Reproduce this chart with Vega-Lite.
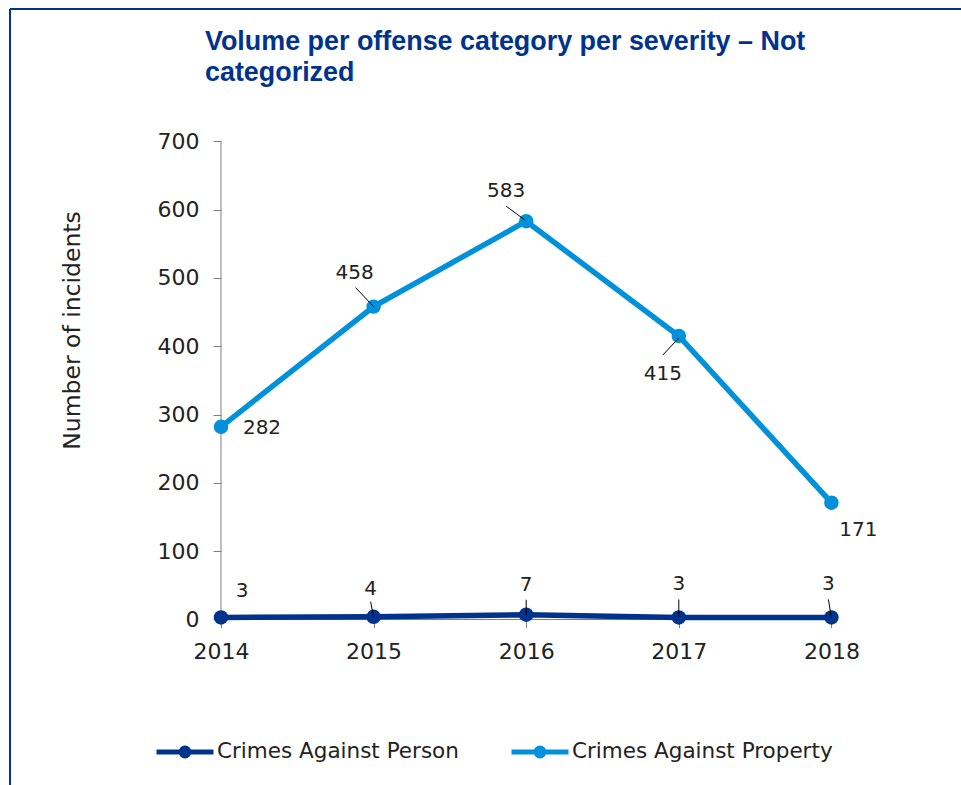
{
  "$schema": "https://vega.github.io/schema/vega-lite/v6.json",
  "width": 951,
  "height": 776,
  "autosize": {"type": "none"},
  "padding": {"left": 10, "top": 9, "right": 0, "bottom": 0},
  "background": "white",
  "config": {
    "view": {"stroke": "#00338D", "strokeWidth": 2, "strokeDash": [951, 1727, 776, 0]}
  },
  "title": {
    "text": ["Volume per offense category per severity – Not", "categorized"],
    "anchor": "start",
    "frame": "group",
    "font": "Liberation Sans",
    "fontSize": 26.9,
    "fontWeight": "bold",
    "color": "#00338D",
    "lineHeight": 31,
    "baseline": "top",
    "offset": 0,
    "dx": 195,
    "dy": 78
  },
  "data": {
    "values": [
      {"series": "Crimes Against Person", "year": 2014, "value": 3},
      {"series": "Crimes Against Person", "year": 2015, "value": 4},
      {"series": "Crimes Against Person", "year": 2016, "value": 7},
      {"series": "Crimes Against Person", "year": 2017, "value": 3},
      {"series": "Crimes Against Person", "year": 2018, "value": 3},
      {"series": "Crimes Against Property", "year": 2014, "value": 282},
      {"series": "Crimes Against Property", "year": 2015, "value": 458},
      {"series": "Crimes Against Property", "year": 2016, "value": 583},
      {"series": "Crimes Against Property", "year": 2017, "value": 415},
      {"series": "Crimes Against Property", "year": 2018, "value": 171}
    ]
  },
  "encoding": {
    "x": {
      "field": "year", "type": "quantitative",
      "scale": {"domain": [2012.6173, 2018.8493], "nice": false, "zero": false},
      "axis": {
        "orient": "bottom", "offset": -165.5, "values": [2014, 2015, 2016, 2017, 2018], "format": "d",
        "domain": false, "grid": false, "title": null,
        "tickSize": 8, "tickColor": "#7f7f7f", "tickWidth": 1,
        "labelFont": "DejaVu Sans", "labelFontSize": 22, "labelColor": "#222222", "labelPadding": 14,
        "labelFlush": false, "labelOverlap": false
      }
    },
    "y": {
      "field": "value", "type": "quantitative",
      "scale": {"domain": [-242.28, 893.68], "nice": false, "zero": false},
      "axis": {
        "orient": "left", "offset": -211, "values": [0, 100, 200, 300, 400, 500, 600, 700],
        "domain": false, "grid": false,
        "tickSize": 8, "tickColor": "#7f7f7f", "tickWidth": 1,
        "labelFont": "DejaVu Sans", "labelFontSize": 22, "labelColor": "#222222", "labelPadding": 14,
        "labelFlush": false, "labelOverlap": false,
        "title": "Number of incidents",
        "titleFont": "DejaVu Sans", "titleFontSize": 23.5, "titleFontWeight": "normal", "titleColor": "#222222",
        "titleAngle": -90, "titleAlign": "center", "titleBaseline": "alphabetic",
        "titleX": -142, "titleY": 321
      }
    }
  },
  "layer": [
    {
      "transform": [{"filter": "datum.series == 'Crimes Against Property' && datum.year == 2014"}],
      "mark": {"type": "rule", "color": "#7f7f7f", "strokeWidth": 1},
      "encoding": {
        "y": {"datum": 0, "type": "quantitative"},
        "y2": {"datum": 700}
      }
    },
    {
      "transform": [{"filter": "datum.series == 'Crimes Against Person' && datum.year < 2018"}],
      "mark": {"type": "rule", "color": "#7f7f7f", "strokeWidth": 1},
      "encoding": {
        "x2": {"datum": 2018},
        "y": {"datum": 0, "type": "quantitative"}
      }
    },
    {
      "mark": {"type": "line", "strokeWidth": 5.5, "point": {"filled": true, "size": 210, "opacity": 1}},
      "encoding": {
        "color": {
          "field": "series", "type": "nominal",
          "scale": {"domain": ["Crimes Against Person", "Crimes Against Property"], "range": ["#00338D", "#0091DA"]},
          "legend": {
            "orient": "none", "legendX": 144, "legendY": 712, "direction": "horizontal", "title": null,
            "padding": 0,
            "symbolType": "M-1,0L1,0M-0.14,0A0.14,0.14,0,1,1,0.14,0A0.14,0.14,0,1,1,-0.14,0M-0.05,0A0.05,0.05,0,1,1,0.05,0A0.05,0.05,0,1,1,-0.05,0",
            "symbolSize": 3249, "symbolStrokeWidth": 5, "symbolOpacity": 1,
            "labelFont": "DejaVu Sans", "labelFontSize": 21.5, "labelColor": "#222222",
            "labelOffset": 1, "columnPadding": 42, "labelLimit": 400
          }
        }
      }
    },
    {
      "transform": [{"filter": "datum.series == 'Crimes Against Property' && datum.year == 2015"}],
      "mark": {"type": "rule", "color": "#000000", "strokeWidth": 1, "xOffset": -18, "yOffset": -19, "x2Offset": 0, "y2Offset": 0},
      "encoding": {"x2": {"field": "year"}, "y2": {"field": "value"}}
    },
    {
      "transform": [{"filter": "datum.series == 'Crimes Against Property' && datum.year == 2016"}],
      "mark": {"type": "rule", "color": "#000000", "strokeWidth": 1, "xOffset": -20, "yOffset": -15, "x2Offset": -1, "y2Offset": -1},
      "encoding": {"x2": {"field": "year"}, "y2": {"field": "value"}}
    },
    {
      "transform": [{"filter": "datum.series == 'Crimes Against Property' && datum.year == 2017"}],
      "mark": {"type": "rule", "color": "#000000", "strokeWidth": 1, "xOffset": -16, "yOffset": 19, "x2Offset": 0, "y2Offset": 2},
      "encoding": {"x2": {"field": "year"}, "y2": {"field": "value"}}
    },
    {
      "transform": [{"filter": "datum.series == 'Crimes Against Person' && datum.year == 2015"}],
      "mark": {"type": "rule", "color": "#000000", "strokeWidth": 1, "xOffset": -3, "yOffset": -15, "x2Offset": 0, "y2Offset": 0},
      "encoding": {"x2": {"field": "year"}, "y2": {"field": "value"}}
    },
    {
      "transform": [{"filter": "datum.series == 'Crimes Against Person' && datum.year == 2016"}],
      "mark": {"type": "rule", "color": "#000000", "strokeWidth": 1, "xOffset": 0, "yOffset": -15, "x2Offset": 0, "y2Offset": 0},
      "encoding": {"x2": {"field": "year"}, "y2": {"field": "value"}}
    },
    {
      "transform": [{"filter": "datum.series == 'Crimes Against Person' && datum.year == 2017"}],
      "mark": {"type": "rule", "color": "#000000", "strokeWidth": 1, "xOffset": 0, "yOffset": -18, "x2Offset": 0, "y2Offset": 0},
      "encoding": {"x2": {"field": "year"}, "y2": {"field": "value"}}
    },
    {
      "transform": [{"filter": "datum.series == 'Crimes Against Person' && datum.year == 2018"}],
      "mark": {"type": "rule", "color": "#000000", "strokeWidth": 1, "xOffset": -3, "yOffset": -18, "x2Offset": 0, "y2Offset": 0},
      "encoding": {"x2": {"field": "year"}, "y2": {"field": "value"}}
    },
    {
      "transform": [{"filter": "datum.series == 'Crimes Against Property' && datum.year == 2014"}],
      "mark": {"type": "text", "font": "DejaVu Sans", "fontSize": 20, "color": "#222222", "align": "center", "baseline": "middle", "dx": 41, "dy": 1},
      "encoding": {"text": {"field": "value"}}
    },
    {
      "transform": [{"filter": "datum.series == 'Crimes Against Property' && datum.year == 2015"}],
      "mark": {"type": "text", "font": "DejaVu Sans", "fontSize": 20, "color": "#222222", "align": "center", "baseline": "middle", "dx": -19, "dy": -34},
      "encoding": {"text": {"field": "value"}}
    },
    {
      "transform": [{"filter": "datum.series == 'Crimes Against Property' && datum.year == 2016"}],
      "mark": {"type": "text", "font": "DejaVu Sans", "fontSize": 20, "color": "#222222", "align": "center", "baseline": "middle", "dx": -20, "dy": -30},
      "encoding": {"text": {"field": "value"}}
    },
    {
      "transform": [{"filter": "datum.series == 'Crimes Against Property' && datum.year == 2017"}],
      "mark": {"type": "text", "font": "DejaVu Sans", "fontSize": 20, "color": "#222222", "align": "center", "baseline": "middle", "dx": -16, "dy": 38},
      "encoding": {"text": {"field": "value"}}
    },
    {
      "transform": [{"filter": "datum.series == 'Crimes Against Property' && datum.year == 2018"}],
      "mark": {"type": "text", "font": "DejaVu Sans", "fontSize": 20, "color": "#222222", "align": "center", "baseline": "middle", "dx": 27, "dy": 27},
      "encoding": {"text": {"field": "value"}}
    },
    {
      "transform": [{"filter": "datum.series == 'Crimes Against Person' && datum.year == 2014"}],
      "mark": {"type": "text", "font": "DejaVu Sans", "fontSize": 20, "color": "#222222", "align": "center", "baseline": "middle", "dx": 21, "dy": -26},
      "encoding": {"text": {"field": "value"}}
    },
    {
      "transform": [{"filter": "datum.series == 'Crimes Against Person' && datum.year == 2015"}],
      "mark": {"type": "text", "font": "DejaVu Sans", "fontSize": 20, "color": "#222222", "align": "center", "baseline": "middle", "dx": -3, "dy": -28},
      "encoding": {"text": {"field": "value"}}
    },
    {
      "transform": [{"filter": "datum.series == 'Crimes Against Person' && datum.year == 2016"}],
      "mark": {"type": "text", "font": "DejaVu Sans", "fontSize": 20, "color": "#222222", "align": "center", "baseline": "middle", "dx": 0, "dy": -30},
      "encoding": {"text": {"field": "value"}}
    },
    {
      "transform": [{"filter": "datum.series == 'Crimes Against Person' && datum.year == 2017"}],
      "mark": {"type": "text", "font": "DejaVu Sans", "fontSize": 20, "color": "#222222", "align": "center", "baseline": "middle", "dx": 0, "dy": -33},
      "encoding": {"text": {"field": "value"}}
    },
    {
      "transform": [{"filter": "datum.series == 'Crimes Against Person' && datum.year == 2018"}],
      "mark": {"type": "text", "font": "DejaVu Sans", "fontSize": 20, "color": "#222222", "align": "center", "baseline": "middle", "dx": -3, "dy": -33},
      "encoding": {"text": {"field": "value"}}
    }
  ]
}
